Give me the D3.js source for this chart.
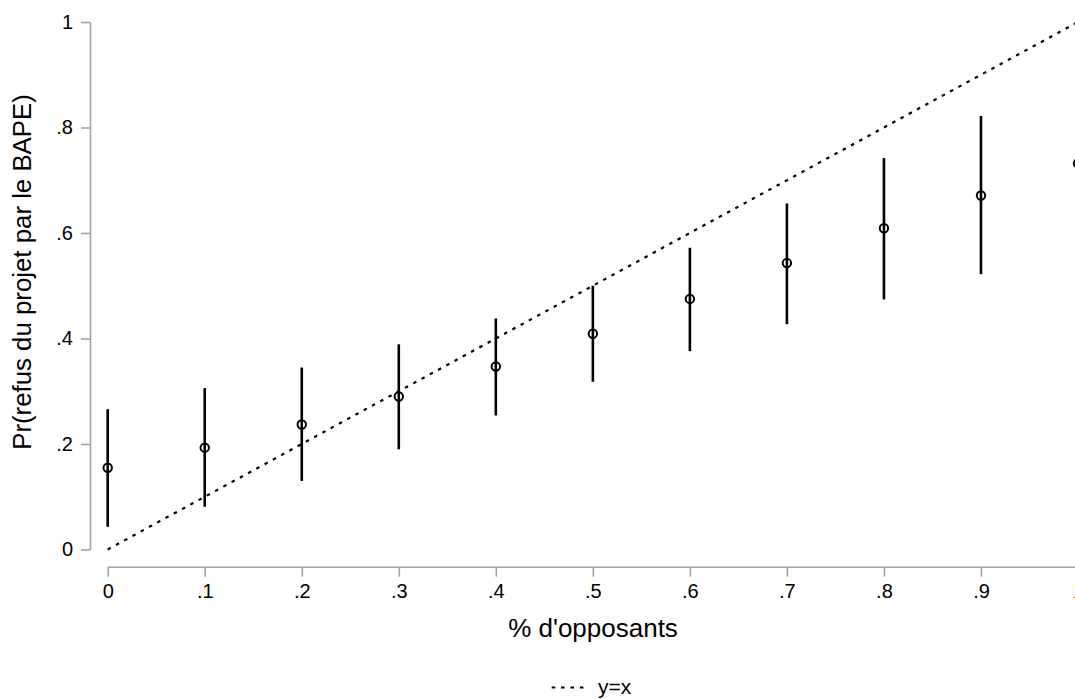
<!DOCTYPE html>
<html>
<head>
<meta charset="utf-8">
<script src="https://cdn.jsdelivr.net/npm/d3@7"></script>
<style>
  html, body { margin: 0; padding: 0; background: #fff; overflow: hidden; }
  svg { display: block; font-family: "Liberation Sans", Arial, Helvetica, sans-serif; }
</style>
</head>
<body>
<svg id="chart" width="1075" height="699"></svg>
<script>
// ---- data ----
const xValues = [0, 0.1, 0.2, 0.3, 0.4, 0.5, 0.6, 0.7, 0.8, 0.9, 1.0];
const pointEstimates = [0.155, 0.193, 0.237, 0.290, 0.347, 0.409, 0.475, 0.543, 0.609, 0.671, 0.732];
const lowerBounds = [0.043, 0.081, 0.130, 0.190, 0.254, 0.318, 0.376, 0.427, 0.474, 0.522, 0.56];
const upperBounds = [0.266, 0.306, 0.345, 0.389, 0.438, 0.500, 0.572, 0.656, 0.742, 0.822, 0.90];
const refLineX = [0, 1];
const xTicks = [0, 0.1, 0.2, 0.3, 0.4, 0.5, 0.6, 0.7, 0.8, 0.9, 1];
const yTicks = [0, 0.2, 0.4, 0.6, 0.8, 1];
const xTitle = "% d'opposants";
const yTitle = "Pr(refus du projet par le BAPE)";
const legendLabel = "y=x";

const svg = d3.select("#chart");
const x = d3.scaleLinear().domain([0, 1]).range([107.7, 1078]);
const y = d3.scaleLinear().domain([0, 1]).range([549.5, 22]);
const fmt = d => d === 0 ? "0" : d === 1 ? "1" : d3.format(".1f")(d).replace(/^0/, "");
const axisColor = "#a3a3a3";

// y axis
const yAxisG = svg.append("g").attr("transform", "translate(90,0)")
  .call(d3.axisLeft(y).tickValues(yTicks).tickFormat(fmt).tickSize(9).tickSizeOuter(0).tickPadding(8));
// x axis
const xAxisG = svg.append("g").attr("transform", "translate(0,566.7)")
  .call(d3.axisBottom(x).tickValues(xTicks).tickFormat(fmt).tickSize(10).tickSizeOuter(0).tickPadding(7));
[yAxisG, xAxisG].forEach(g => {
  g.select(".domain").attr("stroke", axisColor).attr("stroke-width", 1.6);
  g.selectAll(".tick line").attr("stroke", axisColor).attr("stroke-width", 1.6);
  g.selectAll(".tick text").attr("fill", "#000").style("font-size", "20px");
});

// reference y=x line
const line = d3.line().x(d => x(d)).y(d => y(d));
svg.append("path").datum(refLineX).attr("d", line)
  .attr("fill", "none").attr("stroke", "#000").attr("stroke-width", 2.2)
  .attr("stroke-dasharray", "3.5,5.9");

// error bars
svg.append("g").selectAll("line").data(xValues).join("line")
  .attr("x1", d => x(d)).attr("x2", d => x(d))
  .attr("y1", (d, i) => y(lowerBounds[i])).attr("y2", (d, i) => y(upperBounds[i]))
  .attr("stroke", "#000").attr("stroke-width", 2.6);

// points
svg.append("g").selectAll("circle").data(xValues).join("circle")
  .attr("cx", d => x(d)).attr("cy", (d, i) => y(pointEstimates[i]))
  .attr("r", 4.2).attr("fill", "none").attr("stroke", "#000").attr("stroke-width", 2);

// titles
svg.append("text").attr("x", 593).attr("y", 637).attr("text-anchor", "middle")
  .style("font-size", "26px").attr("fill", "#000").text(xTitle);
svg.append("text").attr("transform", "translate(31,272) rotate(-90)").attr("text-anchor", "middle")
  .style("font-size", "25.8px").attr("fill", "#000").text(yTitle);

// legend
svg.append("line").attr("x1", 551.7).attr("x2", 583.4).attr("y1", 687.5).attr("y2", 687.5)
  .attr("stroke", "#000").attr("stroke-width", 2.2).attr("stroke-dasharray", "3.5,5.9");
svg.append("text").attr("x", 598).attr("y", 693.5).style("font-size", "21px").attr("fill", "#000").text(legendLabel);
</script>
</body>
</html>
